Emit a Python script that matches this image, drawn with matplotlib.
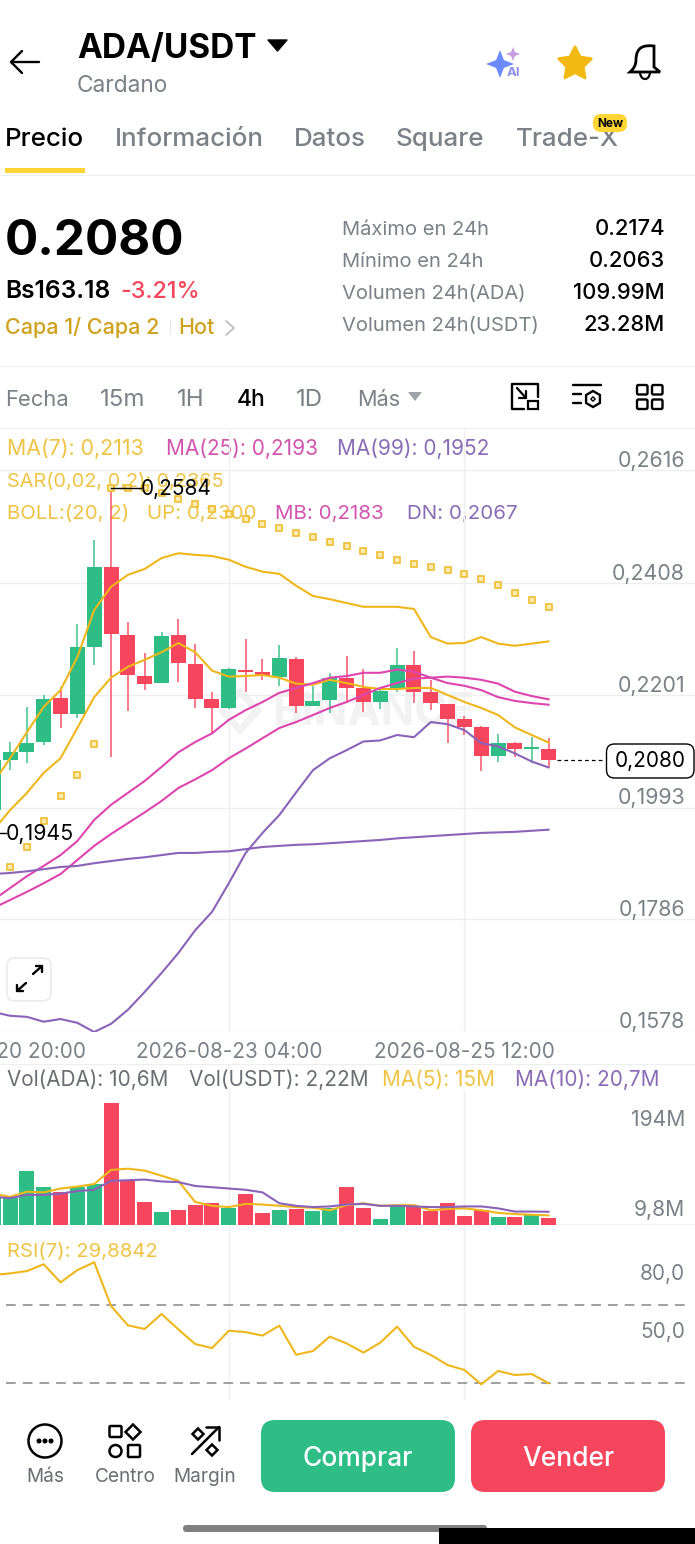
import numpy as np
import matplotlib
matplotlib.use("Agg")
import matplotlib.pyplot as plt
from matplotlib.patches import FancyBboxPatch, Polygon, Circle, Rectangle, PathPatch
from matplotlib.path import Path
from matplotlib.transforms import ScaledTranslation

# ---------- data ----------
opens = [.1988,.2080,.2095,.2114,.2196,.2166,.2290,.2438,.2312,.2236,.2223,.2312,.2259,.2194,.2177,.2248,.2244,.2235,.2268,.2181,.2192,.2233,.2214,.2188,.2214,.2257,.2207,.2184,.2156,.2141,.2089,.2112,.2101,.2102]
highs = [.2085,.2114,.2179,.2201,.2216,.2332,.2487,.2584,.2336,.2279,.2317,.2341,.2296,.2207,.2251,.2304,.2268,.2294,.2271,.2218,.2242,.2273,.2249,.2216,.2288,.2282,.2229,.2184,.2162,.2143,.2128,.2115,.2123,.2121]
lows  = [.1945,.2062,.2075,.2108,.2140,.2158,.2257,.2086,.2171,.2210,.2223,.2225,.2177,.2130,.2175,.2207,.2229,.2218,.2168,.2181,.2168,.2190,.2170,.2175,.2207,.2186,.2173,.2112,.2127,.2060,.2077,.2086,.2075,.2068]
closes= [.2080,.2095,.2112,.2194,.2166,.2290,.2438,.2314,.2238,.2222,.2310,.2260,.2194,.2177,.2249,.2244,.2238,.2270,.2181,.2190,.2233,.2214,.2188,.2208,.2257,.2207,.2186,.2156,.2141,.2089,.2112,.2102,.2104,.2080]
sar   = [np.nan,.1883,.1920,.1968,.2014,.2054,.2110,.2584,.2584,.2584,.2574,.2563,.2554,.2545,.2535,.2526,.2517,.2510,.2500,.2493,.2484,.2477,.2467,.2460,.2451,.2443,.2438,.2432,.2425,.2415,.2404,.2390,.2377,.2364]
boll_up=[.2038,.2084,.2132,.2179,.2210,.2271,.2358,.2401,.2423,.2434,.2454,.2463,.2460,.2458,.2451,.2438,.2429,.2425,.2403,.2384,.2378,.2371,.2364,.2364,.2364,.2360,.2308,.2296,.2297,.2308,.2296,.2292,.2296,.2300]
ma7   = [.1951,.1988,.2020,.2057,.2084,.2140,.2197,.2233,.2253,.2266,.2280,.2297,.2280,.2246,.2235,.2236,.2238,.2233,.2222,.2220,.2229,.2223,.2216,.2212,.2212,.2214,.2214,.2201,.2188,.2177,.2164,.2141,.2127,.2113]
boll_mb=[.1822,.1844,.1866,.1885,.1905,.1931,.1970,.1998,.2020,.2042,.2068,.2095,.2114,.2130,.2155,.2173,.2188,.2205,.2214,.2223,.2233,.2236,.2242,.2242,.2248,.2244,.2233,.2223,.2218,.2210,.2197,.2190,.2186,.2183]
ma25  = [.1807,.1822,.1837,.1853,.1870,.1896,.1922,.1944,.1964,.1984,.2005,.2029,.2045,.2062,.2084,.2102,.2121,.2140,.2151,.2164,.2177,.2188,.2201,.2214,.2223,.2231,.2233,.2235,.2233,.2229,.2222,.2207,.2199,.2193]
ma99  = [.1870,.1872,.1875,.1879,.1883,.1885,.1890,.1894,.1898,.1901,.1905,.1909,.1909,.1911,.1912,.1916,.1920,.1922,.1924,.1925,.1927,.1929,.1931,.1933,.1936,.1938,.1940,.1942,.1944,.1946,.1947,.1948,.1950,.1952]
boll_dn=[.1615,.1608,.1606,.1597,.1602,.1595,.1578,.1593,.1619,.1652,.1687,.1724,.1766,.1800,.1853,.1909,.1946,.1979,.2021,.2062,.2084,.2099,.2115,.2117,.2127,.2123,.2151,.2147,.2136,.2112,.2106,.2093,.2078,.2067]
volume = [44,42,84,59,51,60,64,191,69,36,21,24,31,35,26,48,19,24,25,22,26,59,27,9.4,29,29,22,35,14,23,13,12,16,10.6]
vol_ma5 = [49,44,52,51,57,60,64,86,88,85,77,69,36,30,28,33,32,30,28,27,23,31,34,30,31,31,23,25,26,23,19,17,16,15]
vol_ma10= [44,42,47,47,49,53,55,69,70,71,68,67,61,59,57,55,51,34,30,28,29,32,33,30,30,29,28,28,29,29,26,21,21,20.7]
rsi = [85.4,86.2,87.4,90.9,81.6,87.9,91.9,69.5,59.6,57.7,65.4,57.5,50,47.9,56.8,56.1,54.3,59.4,44.5,46.4,53.8,50.3,45.6,50.7,58.9,48.6,44.4,39.2,36.7,29.3,36.2,34.1,34.6,29.88]
price_ticks = [.2616,.2408,.2201,.1993,.1786,.1578]
price_labels = ["0,2616","0,2408","0,2201","0,1993","0,1786","0,1578"]
date_ticks = [0,14,28]
date_labels = ["2026-08-20 20:00","2026-08-23 04:00","2026-08-25 12:00"]
stat_names = ["Máximo en 24h","Mínimo en 24h","Volumen 24h(ADA)","Volumen 24h(USDT)"]
stat_vals = ["0.2174","0.2063","109.99M","23.28M"]

# ---------- style ----------
W, H = 695, 1544
FONT = "Inter"
plt.rcParams['font.family'] = [FONT, 'DejaVu Sans']
GREEN, RED = "#2EBD85", "#F6465D"
YEL, PINK, PURP = "#EFB71B", "#DE45AE", "#8A63B8"
LY, LP, LV = "#EFC445", "#D254AE", "#8A6BB5"
GRAY, DGRAY, GRID = "#7C8087", "#6A6D72", "#EEEEEE"
LW = 1.5

fig = plt.figure(figsize=(W/100, H/100), dpi=100, facecolor="white")

def axpx(x0, y0, x1, y1, **kw):
    return fig.add_axes([x0/W, 1-y1/H, (x1-x0)/W, (y1-y0)/H], **kw)

ui = axpx(0, 0, W, H, zorder=0)
ui.set_xlim(0, W); ui.set_ylim(H, 0); ui.axis("off")
top = axpx(0, 0, W, H, zorder=5, facecolor="none")
top.set_xlim(0, W); top.set_ylim(H, 0); top.axis("off")

def T(x, y, s, size, color="black", ha="left", weight="normal", ax=ui, **kw):
    return ax.text(x, y, s, fontsize=size, color=color, ha=ha, va="baseline", weight=weight, **kw)

def rbox(ax, x0, y0, x1, y1, r, **kw):
    p = FancyBboxPatch((x0+r, y0+r), x1-x0-2*r, y1-y0-2*r, boxstyle=f"round,pad={r},rounding_size={r}", **kw)
    ax.add_patch(p); return p

def L(ax, xs, ys, c="black", lw=1.7, **kw):
    ax.plot(xs, ys, color=c, lw=lw, solid_capstyle="round", solid_joinstyle="round", **kw)

def diamond(ax, cx, cy, r, lw=1.7):
    ax.add_patch(Polygon([[cx, cy-r], [cx+r, cy], [cx, cy+r], [cx-r, cy]], fc="none", ec="black", lw=lw))

# ---------- header ----------
L(ui, [39, 11, 22], [62, 62, 51]); L(ui, [11, 22], [62, 73])
T(77, 58, "ADA/USDT", 24, weight="bold")
ui.add_patch(Polygon([[268, 40], [287, 40], [277.5, 51]], color="black", joinstyle="round"))
T(77, 92, "Cardano", 16.3, GRAY)

def star4(cx, cy, r, c):
    k = r*.28
    ui.add_patch(Polygon([[cx, cy-r], [cx+k, cy-k], [cx+r, cy], [cx+k, cy+k], [cx, cy+r], [cx-k, cy+k], [cx-r, cy], [cx-k, cy-k]], color=c, lw=0))
star4(500, 64, 14, "#6C8BFA"); star4(513, 54, 7, "#C99BE0")
T(507, 76.5, "AI", 9.5, "#8E8FE8", weight="bold")
ang = np.deg2rad(np.arange(10)*36+90)
rad = np.where(np.arange(10) % 2 == 0, 17, 8.5)
ui.add_patch(Polygon(np.c_[575+rad*np.cos(ang), 64-rad*np.sin(ang)], color="#F3BA16", lw=2.2, joinstyle="round"))
bell = Path([(630, 72), (636, 67), (636, 60), (636, 46), (645, 45), (654, 46), (654, 60), (654, 67), (660, 72), (630, 72)],
            [1, 3, 3, 4, 4, 4, 3, 3, 2, 79])
ui.add_patch(PathPatch(bell, fc="none", ec="black", lw=2))
ui.add_patch(PathPatch(Path([(640, 73), (641, 79), (645, 79), (649, 79), (650, 73)], [1, 3, 3, 3, 3]), fc="none", ec="black", lw=1.6))

# tabs
T(5, 146, "Precio", 18.7, weight="medium")
for x, s in zip([115, 294, 396, 516], ["Información", "Datos", "Square", "Trade-X"]):
    T(x, 146, s, 18.7, GRAY, weight="medium")
ui.add_patch(Rectangle((5, 168), 80, 5, color="#FCD535", lw=0))
ui.add_patch(Rectangle((0, 174.5), W, 1.2, color=GRID, lw=0))
rbox(top, 593, 114, 627, 132, 8, fc="#FDD535", ec="none")
T(610, 127, "New", 8.5, "black", ha="center", weight="bold", ax=top)

# price block
T(5, 255, "0.2080", 35.5, weight="bold")
T(5, 298, "Bs163.18", 17.7, weight="semibold")
T(120, 298, "-3.21%", 16.8, RED, weight="medium")
T(5, 334, "Capa 1/ Capa 2", 15.5, "#CFA11C", weight="medium")
T(178, 334, "Hot", 15.5, "#CFA11C", weight="medium")
ui.add_patch(Rectangle((169.5, 320), 1, 14, color="#E6E6E6", lw=0))
L(ui, [226, 234, 226], [321, 328, 335], c="#B8BBBF", lw=1.2)
for i, (n, v) in enumerate(zip(stat_names, stat_vals)):
    yb = 235 + 32*i
    T(342, yb, n, 14.5, GRAY)
    T(665, yb, v, 15.8, "black", ha="right", weight="medium")
ui.add_patch(Rectangle((0, 366), W, 1.2, color=GRID, lw=0))

# interval row
for x, s, c, fs in zip([5, 100, 177, 237, 296, 357], ["Fecha", "15m", "1H", "4h", "1D", "Más"], [GRAY]*3+["black"]+[GRAY]*2, [15.8, 17.3, 17.3, 16.5, 17.3, 15.6]):
    T(x, 406, s, fs, c, weight="medium" if s == "4h" else "normal")
ui.add_patch(Polygon([[408, 392], [422, 392], [415, 401]], color="#9FA3A8", lw=0))
# icons
L(ui, [524, 512, 512, 538, 538], [409, 409, 384, 384, 397])
ui.add_patch(Rectangle((527.5, 401), 10.5, 8, fc="none", ec="black", lw=1.6))
L(ui, [517, 526], [388, 398], lw=1.6); L(ui, [519, 526, 526], [398, 398, 391], lw=1.6)
L(ui, [573, 601], [385, 385]); L(ui, [573, 581], [394, 394]); L(ui, [573, 581], [403, 403])
ui.add_patch(Polygon(np.c_[593+8*np.cos(np.arange(6)*np.pi/3+np.pi/6), 399+8*np.sin(np.arange(6)*np.pi/3+np.pi/6)], fc="none", ec="black", lw=1.7))
diamond(ui, 593, 399, 2.2, lw=1)
for x0, y0 in [(637, 385), (652, 385), (637, 399.5), (652, 399.5)]:
    rbox(ui, x0, y0, x0+10.5, y0+9.5, 1.5, fc="none", ec="black", lw=1.7)
ui.add_patch(Rectangle((0, 428), W, 1.2, color=GRID, lw=0))

# legends
T(7, 455, "MA(7): 0,2113", 15.4, LY)
T(166, 455, "MA(25): 0,2193", 15, LP)
T(337, 455, "MA(99): 0,1952", 15, LV)
T(7, 487, "SAR(0,02, 0,2): 0,2365", 14.3, LY)
T(7, 519, "BOLL:(20, 2)", 14.7, LY)
T(147, 519, "UP: 0,2300", 14.7, LY)
T(275, 519, "MB: 0,2183", 14.8, LP)
T(407, 519, "DN: 0,2067", 14.8, LV)
# watermark
T(272, 725, "BINANCE", 32, "#F2F2F2", weight="bold")
ui.add_patch(Polygon([[240, 692], [258, 710], [240, 730], [222, 710]], fc="none", ec="#F2F2F2", lw=5))

T(7, 1086, "Vol(ADA): 10,6M", 14.9, DGRAY)
T(189, 1086, "Vol(USDT): 2,22M", 15, DGRAY)
T(382, 1086, "MA(5): 15M", 15, LY)
T(515, 1086, "MA(10): 20,7M", 15, LV)
T(7, 1257, "RSI(7): 29,8842", 14.6, LY)
ui.add_patch(Rectangle((0, 1064), W, 1.2, color=GRID, lw=0))

# ---------- chart helpers ----------
STEP, X0 = 16.83, -6.8     # pixels per candle, pixel of candle 0
LEFT = -20                 # axes starts off-figure so candle 0 stays in range
xlim = ((LEFT-X0)/STEP, (W-X0)/STEP)
PX = 0.02075/112.25        # price per pixel
idx = np.arange(len(closes))

def style(ax):
    ax.set_facecolor("none")
    ax.set_xlim(*xlim)
    for s in ax.spines.values():
        s.set_visible(False)
    ax.yaxis.tick_right()

def shift(labels, dy):
    for lab, d in zip(labels, dy):
        lab.set_transform(lab.get_transform()+ScaledTranslation(0, d/100, fig.dpi_scale_trans))
        lab.set_ha("right")

# ---------- price panel ----------
ax = axpx(LEFT, 430, W, 1032, zorder=1)
style(ax)
ax.set_ylim(.1578, .1578+602*PX)
ax.set_yticks(price_ticks, price_labels)
ax.set_xticks(date_ticks, date_labels)
ax.tick_params(axis="y", length=0, labelsize=15.4, labelcolor=GRAY, pad=-7.2)
ax.tick_params(axis="x", length=0, labelsize=14.9, labelcolor=GRAY, pad=7.5)
ax.grid(True, color=GRID, lw=1)
ax.set_axisbelow(True)
shift(ax.get_yticklabels(), [11, 11, 11, 11, 11, 12])

o, h, l, c = map(np.array, (opens, highs, lows, closes))
cols = [GREEN if x >= y else RED for x, y in zip(c, o)]
ax.vlines(idx, l, h, colors=cols, lw=1.2, alpha=.85, zorder=2)
ax.bar(idx, np.maximum(np.abs(c-o), 2*PX), bottom=np.minimum(o, c), width=15/STEP, color=cols, lw=0, zorder=3)
ax.plot(idx, boll_up, color=YEL, lw=LW, zorder=4)
ax.plot(idx, ma7, color=YEL, lw=LW, zorder=4)
ax.plot(idx, boll_mb, color=PINK, lw=LW, zorder=4)
ax.plot(idx, ma25, color=PINK, lw=LW, zorder=4)
ax.plot(idx, ma99, color=PURP, lw=LW, zorder=4)
ax.plot(idx, boll_dn, color=PURP, lw=LW, zorder=4)
ax.plot(idx, sar, ls="none", marker="s", ms=4, mfc="#FBEBB0", mec="#EFBE30", mew=1.2, zorder=5)
ax.plot([33.5, 36.3], [c[-1], c[-1]], color="black", lw=.9, ls=(0, (3, 2.5)), zorder=5)
# high / low marks
hi, lo = int(np.argmax(h)), int(np.argmin(l))
ax.plot([hi, hi+30/STEP], [h[hi], h[hi]], color="black", lw=1, zorder=6)
ax.annotate(f"{h[hi]:.4f}".replace(".", ","), (hi+30/STEP, h[hi]), xytext=(0, -1), textcoords="offset pixels", fontsize=15, color="black", va="center", zorder=6, annotation_clip=False)
ax.plot([lo, lo+13/STEP], [l[lo], l[lo]], color="black", lw=1, zorder=6)
ax.annotate(f"{l[lo]:.4f}".replace(".", ","), (lo+13/STEP, l[lo]), xytext=(0, -1), textcoords="offset pixels", fontsize=15.4, color="black", va="center", zorder=6, annotation_clip=False)

# price tag + expand button (screen furniture)
rbox(top, 606.5, 744, 694, 778, 8, fc="white", ec="black", lw=1)
T(650, 767, f"{c[-1]:.4f}".replace(".", ","), 15, "black", ha="center", ax=top)
rbox(top, 7, 958, 51, 1001, 8, fc="white", ec="#EDEDED", lw=1.4)
L(top, [33, 42], [974, 966]); L(top, [36, 42, 42], [966, 966, 972])
L(top, [26, 17], [983, 991]); L(top, [17, 17, 23], [985, 991, 991])

# ---------- volume panel ----------
vx = axpx(LEFT, 1090, W, 1225, zorder=1)
style(vx)
vx.set_ylim(0, 135/0.64)
vx.set_xticks(date_ticks, [])
vx.set_yticks([9.8, 194], ["9,8M", "194M"])
vx.tick_params(axis="both", length=0, labelsize=15.2, labelcolor=GRAY, pad=-7.2)
vx.grid(True, axis="x", color=GRID, lw=1)
vx.set_axisbelow(True)
shift(vx.get_yticklabels(), [-1, -9])
vx.get_yticklabels()[0].set_va("bottom"); vx.get_yticklabels()[1].set_va("top")
vx.bar(idx, volume, width=15/STEP, color=cols, lw=0, zorder=2)
vx.plot(idx, vol_ma5, color=YEL, lw=LW, zorder=3)
vx.plot(idx, vol_ma10, color=PURP, lw=LW, zorder=3)
vx.axhline(0, color=GRID, lw=1.2, zorder=1)

# ---------- RSI panel ----------
rx = axpx(LEFT, 1225, W, 1400, zorder=1)
style(rx)
rx.set_ylim(30-17/1.95, 30+158/1.95)
rx.set_xticks(date_ticks, [])
rx.set_yticks([50, 80], ["50,0", "80,0"])
rx.tick_params(axis="both", length=0, labelsize=15, labelcolor=GRAY, pad=-7.2)
rx.grid(True, axis="x", color=GRID, lw=1)
rx.set_axisbelow(True)
shift(rx.get_yticklabels(), [14, 14])
for lev in (70, 30):
    rx.plot([(6-X0)/STEP, (690-X0)/STEP], [lev, lev], color="#A0A0A0", lw=1.4, ls=(0, (5, 3.6)), zorder=2)
rx.plot(idx, rsi, color=YEL, lw=LW, zorder=3)

# ---------- bottom bar ----------
ui.add_patch(Circle((45, 1441), 16.5, fc="none", ec="black", lw=1.8))
for dx in (-6, 0, 6):
    ui.add_patch(Circle((45+dx, 1441), 1.8, color="black"))
rbox(ui, 109.5, 1426, 121.5, 1437, 1.2, fc="none", ec="black", lw=1.8)
diamond(ui, 133, 1432, 7.5, lw=1.8)
ui.add_patch(Circle((115.5, 1451), 6, fc="none", ec="black", lw=1.8))
rbox(ui, 128, 1445, 140, 1457, 1.2, fc="none", ec="black", lw=1.8)
L(ui, [192, 219], [1454, 1427], lw=1.8); L(ui, [206, 219, 219], [1427, 1427, 1440], lw=1.8)
diamond(ui, 198, 1434, 5.5, lw=1.8); diamond(ui, 212, 1450, 5.5, lw=1.8)
for x, s in zip([45, 125, 205], ["Más", "Centro", "Margin"]):
    T(x, 1482, s, 13.7, DGRAY, ha="center")
rbox(ui, 261, 1420, 455, 1492, 14, fc=GREEN, ec="none")
rbox(ui, 471, 1420, 665, 1492, 14, fc=RED, ec="none")
T(358, 1466, "Comprar", 19, "white", ha="center", weight="medium")
T(568, 1466, "Vender", 19, "white", ha="center", weight="medium")
rbox(ui, 183, 1525, 487, 1532, 3.5, fc="#808080", ec="none")
top.add_patch(Rectangle((439, 1528), 256, 16, color="black", lw=0))

fig.savefig("out.png", dpi=100, facecolor="white")
